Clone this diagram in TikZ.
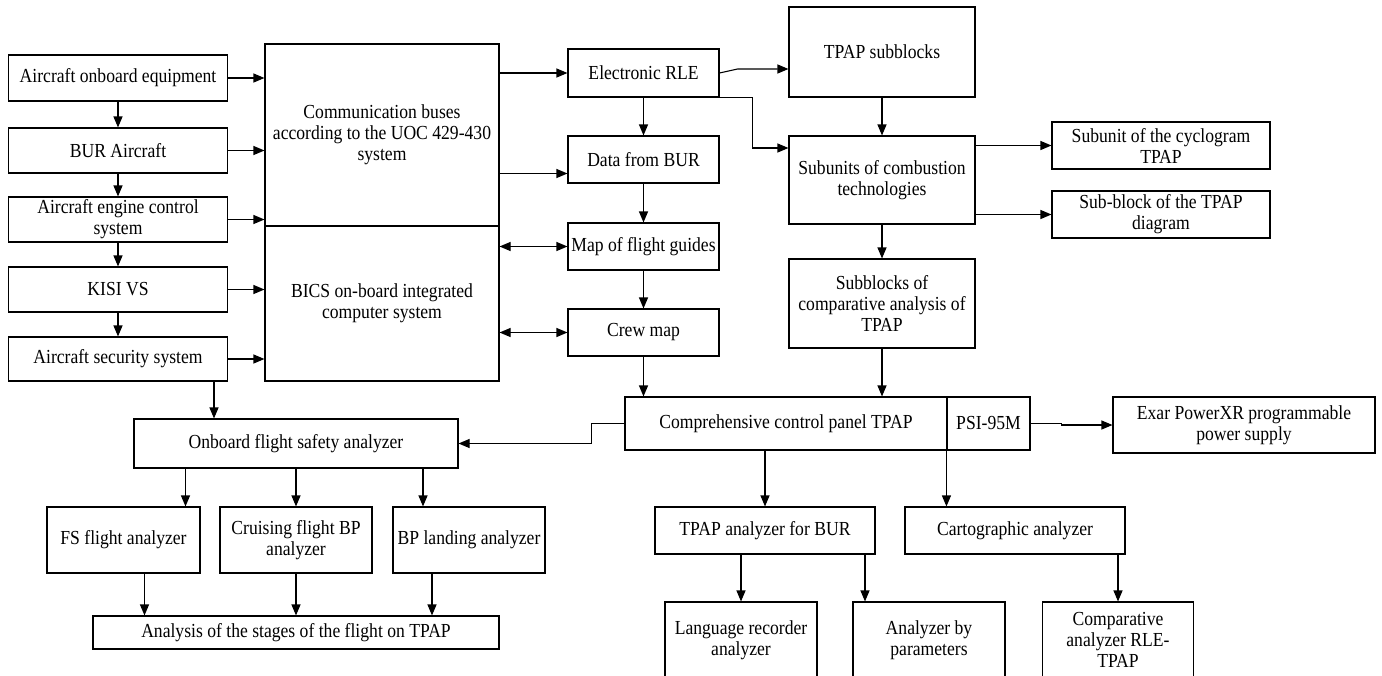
\documentclass[tikz,border=0pt]{standalone}
\usepackage{fontspec}
\setmainfont[FakeStretch=0.885]{Liberation Serif}
\usetikzlibrary{arrows.meta}
\begin{document}
\begin{tikzpicture}[x=1pt, y=1pt, line width=1.1pt, >={Triangle[length=11pt,width=9pt]},
  box/.style={draw, align=center, inner sep=0pt, font=\fontsize{19.9}{21}\selectfont}]
\useasboundingbox (0,0) rectangle (1382,-675);
\node[box, minimum width=219, minimum height=46] (a1) at (118,-78) {Aircraft onboard equipment};
\node[box, minimum width=219, minimum height=45] (a2) at (118,-150.5) {BUR Aircraft};
\node[box, minimum width=219, minimum height=45] (a3) at (118,-219.5) {Aircraft engine control\\system};
\node[box, minimum width=219, minimum height=45] (a4) at (118,-289.5) {KISI VS};
\node[box, minimum width=219, minimum height=44] (a5) at (118,-359) {Aircraft security system};
\node[box, minimum width=234, minimum height=182] (b1) at (382,-135) {Communication buses\\according to the UOC 429-430\\system};
\node[box, minimum width=234, minimum height=155] (b2) at (382,-303.5) {BICS on-board integrated\\computer system};
\node[box, minimum width=151, minimum height=48] (c1) at (643.5,-73) {Electronic RLE};
\node[box, minimum width=151, minimum height=47] (c2) at (643.5,-159.5) {Data from BUR};
\node[box, minimum width=151, minimum height=47] (c3) at (643.5,-246.5) {Map of flight guides};
\node[box, minimum width=151, minimum height=47] (c4) at (643.5,-332.5) {Crew map};
\node[box, minimum width=186, minimum height=90] (d1) at (882,-52) {TPAP subblocks};
\node[box, minimum width=186, minimum height=88] (d2) at (882,-180) {Subunits of combustion\\technologies};
\node[box, minimum width=186, minimum height=89] (d3) at (882,-303.5) {Subblocks of\\comparative analysis of\\TPAP};
\node[box, minimum width=218, minimum height=47] (e1) at (1161,-145.5) {Subunit of the cyclogram\\TPAP};
\node[box, minimum width=218, minimum height=47] (e2) at (1161,-214.5) {Sub-block of the TPAP\\diagram};
\node[box, minimum width=322, minimum height=53] (f1) at (786,-423.5) {Comprehensive control panel TPAP};
\node[box, minimum width=83, minimum height=53] (f2) at (988.5,-423.5) {PSI-95M};
\node[box, minimum width=262, minimum height=56] (g1) at (1244,-425) {Exar PowerXR programmable\\power supply};
\node[box, minimum width=324, minimum height=49] (h1) at (296,-443.5) {Onboard flight safety analyzer};
\node[box, minimum width=153, minimum height=66] (h2) at (123.5,-540) {FS flight analyzer};
\node[box, minimum width=152, minimum height=66] (h3) at (296,-540) {Cruising flight BP\\analyzer};
\node[box, minimum width=152, minimum height=66] (h4) at (469,-540) {BP landing analyzer};
\node[box, minimum width=406, minimum height=33] (h5) at (296,-632.5) {Analysis of the stages of the flight on TPAP};
\node[box, minimum width=220, minimum height=47] (k1) at (765,-530.5) {TPAP analyzer for BUR};
\node[box, minimum width=220, minimum height=47] (k2) at (1015,-530.5) {Cartographic analyzer};
\node[box, minimum width=152, minimum height=76] (m1) at (741,-640) {Language recorder\\analyzer};
\node[box, minimum width=152, minimum height=76] (m2) at (929,-640) {Analyzer by\\parameters};
\node[box, minimum width=151, minimum height=76] (m3) at (1118,-640) {Comparative\\analyzer RLE-\\TPAP};
\foreach \i/\j in {a1/a2,a2/a3,a3/a4,a4/a5,c1/c2,c2/c3,c3/c4,d1/d2,d2/d3,h3/h5}
  \draw[->] (\i) -- (\j);
\draw[->] (a1) -- (a1 -| b1.west);
\draw[->] (a2) -- (a2 -| b1.west);
\draw[->] (a3) -- (a3 -| b1.west);
\draw[->] (a4) -- (a4 -| b2.west);
\draw[->] (a5) -- (a5 -| b2.west);
\draw[->] (c1 -| b1.east) -- (c1);
\draw[->] ([yshift=-14]c2.west -| b1.east) -- ([yshift=-14]c2.west);
\draw[<->] (c3 -| b2.east) -- (c3);
\draw[<->] (c4 -| b2.east) -- (c4);
\draw[->] (c1.east) -- ++(18,4) -- ([yshift=-17]d1.west);
\draw[->] (c1.south east) -- ++(33,0) |- ([yshift=32]d2.west);
\draw[->] (e1 -| d2.east) -- (e1);
\draw[->] (e2 -| d2.east) -- (e2);
\draw[->] (d3) -- (d3 |- f1.north);
\draw[->] (c4) -- (c4 |- f1.north);
\draw[->] (f1.west) -- ++(-33,0) |- (h1.east);
\draw[->] ([xshift=96]a5.south) -- ([xshift=96]a5.south |- h1.north);
\draw[->] ([xshift=62]h2.north |- h1.south) -- ([xshift=62]h2.north);
\draw[->] (h1) -- (h3);
\draw[->] ([xshift=-46]h4.north |- h1.south) -- ([xshift=-46]h4.north);
\draw[->] ([xshift=21]h2.south) -- ([xshift=21]h2.south |- h5.north);
\draw[->] ([xshift=-37]h4.south) -- ([xshift=-37]h4.south |- h5.north);
\draw[->] (f2.east) -- ++(31,0) |- (g1.west);
\draw[->] (k1 |- f1.south) -- (k1);
\draw[->] (f2.south west) -- (f2.south west |- k2.north);
\draw[->] (m1 |- k1.south) -- (m1);
\draw[->] ([xshift=-64]m2.north |- k1.south) -- ([xshift=-64]m2.north);
\draw[->] (m3 |- k2.south) -- (m3);
\end{tikzpicture}
\end{document}
